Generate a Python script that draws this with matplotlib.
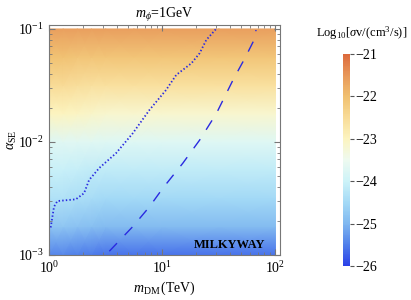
import numpy as np
import matplotlib.pyplot as plt
from matplotlib.colors import LinearSegmentedColormap
from matplotlib.ticker import LogLocator, NullFormatter

plt.rcParams['font.family'] = 'Liberation Serif'
plt.rcParams['mathtext.fontset'] = 'custom'
plt.rcParams['mathtext.rm'] = 'Liberation Serif'
plt.rcParams['mathtext.it'] = 'Liberation Serif:italic'
plt.rcParams['font.size'] = 9

#%% data
log_mdm = [0, 0.125, 0.25, 0.375, 0.5, 0.75, 1.0, 1.5, 2.0]
log_alpha = [-3, -2.75, -2.5, -2.25, -2, -1.75, -1.5, -1.25, -1]
# Log10[sigma v], rows = alpha (bottom->top), cols = m_DM
sigv = [
    [-25.45, -25.45, -25.5, -25.55, -25.6, -25.6, -25.6, -25.6, -25.6],
    [-24.8, -24.8, -24.85, -24.9, -24.95, -24.95, -24.95, -24.95, -24.95],
    [-24.35, -24.35, -24.4, -24.45, -24.5, -24.5, -24.5, -24.5, -24.5],
    [-24.05, -24.05, -24.1, -24.15, -24.15, -24.15, -24.15, -24.15, -24.15],
    [-23.75, -23.7, -23.7, -23.7, -23.75, -23.75, -23.75, -23.75, -23.75],
    [-23.0, -23.0, -23.05, -23.1, -23.15, -23.15, -23.15, -23.15, -23.15],
    [-22.5, -22.5, -22.55, -22.6, -22.6, -22.6, -22.6, -22.6, -22.6],
    [-22.05, -22.05, -22.1, -22.1, -22.1, -22.1, -22.1, -22.1, -22.1],
    [-21.6, -21.6, -21.6, -21.6, -21.6, -21.6, -21.6, -21.6, -21.6],
]

# dotted contour
dot_m = [1.035, 1.107, 1.185, 1.725, 2.04, 2.26, 2.78, 3.90, 5.48, 7.71, 10.8, 13.3, 18.1, 21.4, 24.5, 29.7]
dot_a = [1.75e-3, 2.67e-3, 3.0e-3, 3.11e-3, 3.52e-3, 4.61e-3, 5.89e-3, 7.94e-3, 1.19e-2, 1.92e-2, 2.88e-2, 3.92e-2, 4.97e-2, 6.1e-2, 8.0e-2, 0.0993]
# dashed contour
dash_m = [3.41, 5.48, 7.71, 10.1, 15.2, 21.4, 30.1, 42.2, 53.7, 63.6, 67.0, 67.2]
dash_a = [1.08e-3, 1.78e-3, 2.67e-3, 3.89e-3, 6.49e-3, 1.04e-2, 1.79e-2, 3.54e-2, 5.51e-2, 7.72e-2, 8.5e-2, 0.098]

cmap_colors = ['#2b40e8', '#5080ea', '#80b8f0', '#a4daf6', '#cdf3f8', '#eefaf0',
               '#fcf4c0', '#f8dc98', '#f0c070', '#e8985a', '#dc6a3c']
cmap = LinearSegmentedColormap.from_list('temp', cmap_colors)

#%% plot
fig = plt.figure(figsize=(4.11, 3.0), dpi=100)
ax = fig.add_axes([49/411, 45/300, 231/411, 230/300])
M, A = np.meshgrid(10**np.array(log_mdm), 10**np.array(log_alpha))
pc = ax.pcolormesh(M, A, np.array(sigv), cmap=cmap, vmin=-26, vmax=-21, shading='gouraud')
ax.plot(dot_m, dot_a, color='#2a2ae0', lw=1.3, ls=(0, (0.8, 1.2)))
ax.plot(dash_m, dash_a, color='#2a2ae0', lw=1.0, ls=(0, (8, 8)))
ax.set_xscale('log')
ax.set_yscale('log')
ax.set_xlim(1, 10**2.04)
ax.set_ylim(1e-3, 10**-0.965)
ax.set_xticks([1, 10, 100])
ax.set_xticklabels(['$10^0$', '$10^1$', '$10^2$'])
ax.set_yticks([1e-3, 1e-2, 1e-1])
ax.set_yticklabels(['$10^{-3}$', '$10^{-2}$', '$10^{-1}$'])
ax.xaxis.set_minor_locator(LogLocator(subs=np.arange(2, 10)))
ax.yaxis.set_minor_locator(LogLocator(subs=np.arange(2, 10)))
ax.xaxis.set_minor_formatter(NullFormatter())
ax.yaxis.set_minor_formatter(NullFormatter())
ax.tick_params(which='both', direction='in', top=True, right=True, color='#777777', labelsize=10)
ax.tick_params(which='major', length=4)
ax.tick_params(which='minor', length=2)
for s in ax.spines.values():
    s.set_color('#777777')
ax.set_xlabel(r'$m_{\rm DM}\,$(TeV)', fontsize=10, labelpad=3)
ax.set_ylabel(r'$\alpha_{\rm SE}$', fontsize=10)
ax.yaxis.set_label_coords(-0.13, 0.5)
ax.set_title(r'$m_\phi$=1GeV', fontsize=10, pad=5)
ax.text(80.7, 1.22e-3, 'MILKYWAY', fontweight='bold', fontsize=9, ha='right', va='center')

cax = fig.add_axes([343/411, 34/300, 7/411, 212/300])
cb = fig.colorbar(pc, cax=cax, ticks=[-26, -25, -24, -23, -22, -21])
cb.ax.set_yticklabels(['\u221226', '\u221225', '\u221224', '\u221223', '\u221222', '\u221221'])
cb.outline.set_visible(False)
cb.ax.tick_params(length=3, color='#555555', labelsize=10, pad=1)
fig.text(362/411, 1 - 33/300, r'Log$_{10}$[$\sigma$v/(cm$^3$/s)]', ha='center', va='center', fontsize=9)

fig.savefig('out.png')
